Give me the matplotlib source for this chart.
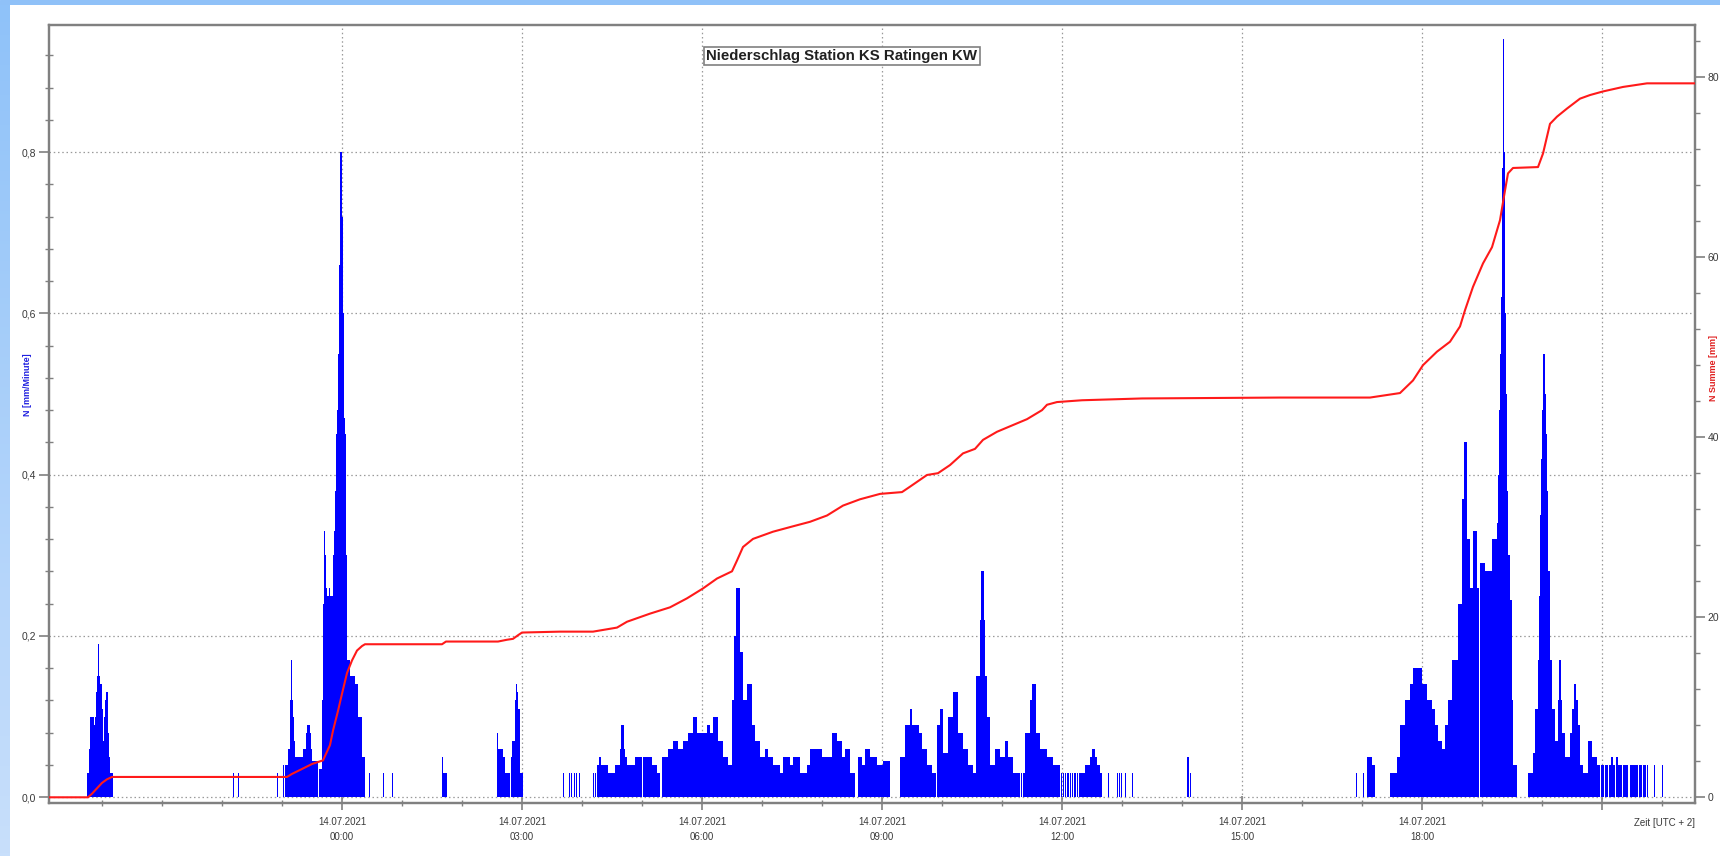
import numpy as np
import matplotlib
matplotlib.use("Agg")
import matplotlib.pyplot as plt
from matplotlib.ticker import FixedLocator, MultipleLocator, FuncFormatter
from matplotlib.colors import LinearSegmentedColormap

W, H = 1720, 856

# time axis: minutes relative to 14.07.2021 00:00 (UTC+2)
x_start, x_end = -293, 1353
major_ticks = [0, 180, 360, 540, 720, 900, 1080, 1260]
date_label = "14.07.2021"

# precipitation intensity N [mm/Minute] as runs (start minute, end minute, value)
rain_1307_evening = [
    (-255, -253, 0.03), (-253, -252, 0.06), (-252, -248, 0.10), (-248, -247, 0.09),
    (-247, -246, 0.10), (-246, -245, 0.13), (-245, -244, 0.15), (-244, -243, 0.19),
    (-243, -242, 0.15), (-242, -240, 0.14), (-240, -239, 0.11), (-239, -238, 0.07),
    (-238, -237, 0.10), (-237, -236, 0.12), (-236, -234, 0.13), (-234, -233, 0.08),
    (-233, -232, 0.05), (-232, -229, 0.03),
    (-109, -108, 0.03), (-104, -103, 0.03), (-65, -64, 0.03),
]
rain_midnight = [
    (-59, -58, 0.04), (-57, -54, 0.04), (-54, -52, 0.06), (-52, -51, 0.12),
    (-51, -50, 0.17), (-50, -49, 0.12), (-49, -48, 0.10), (-48, -47, 0.07),
    (-47, -39, 0.05), (-39, -36, 0.06), (-36, -35, 0.08), (-35, -32, 0.09),
    (-32, -31, 0.08), (-31, -30, 0.06), (-30, -24, 0.045), (-23, -20, 0.035),
    (-20, -19, 0.12), (-19, -18, 0.24), (-18, -17, 0.33), (-17, -16, 0.30),
    (-16, -15, 0.26), (-15, -13, 0.25), (-13, -12, 0.26), (-12, -9, 0.25),
    (-9, -8, 0.30), (-8, -7, 0.33), (-7, -6, 0.38), (-6, -5, 0.45),
    (-5, -4, 0.48), (-4, -3, 0.55), (-3, -2, 0.66), (-2, -1, 0.80),
    (-1, 0, 0.80), (0, 1, 0.72), (1, 2, 0.60), (2, 3, 0.47), (3, 4, 0.45),
    (4, 5, 0.30), (5, 8, 0.17), (8, 13, 0.15), (13, 16, 0.14), (16, 20, 0.10),
    (20, 23, 0.05),
    (27, 28, 0.03), (41, 42, 0.03), (50, 51, 0.03),
    (100, 101, 0.05), (101, 105, 0.03),
    (155, 156, 0.08), (156, 161, 0.06), (161, 163, 0.05), (163, 168, 0.03),
    (169, 170, 0.05), (170, 173, 0.07), (173, 174, 0.12), (174, 175, 0.14),
    (175, 176, 0.13), (176, 178, 0.11), (178, 181, 0.03),
]
rain_morning = [
    (221, 222, 0.03), (227, 228, 0.03), (229, 230, 0.03), (232, 233, 0.03),
    (234, 235, 0.03), (237, 238, 0.03), (251, 252, 0.03), (253, 254, 0.03),
    (255, 257, 0.04), (257, 259, 0.05), (259, 266, 0.04), (266, 273, 0.03),
    (273, 278, 0.04), (278, 279, 0.06), (279, 282, 0.09), (282, 283, 0.06),
    (283, 285, 0.05), (285, 293, 0.04), (293, 300, 0.05), (301, 310, 0.05),
    (310, 315, 0.04), (315, 318, 0.03), (320, 326, 0.05), (326, 331, 0.06),
    (331, 336, 0.07), (336, 341, 0.06), (341, 346, 0.07), (346, 351, 0.08),
    (351, 355, 0.10), (355, 365, 0.08), (365, 368, 0.09), (368, 371, 0.08),
    (371, 376, 0.10), (376, 381, 0.07), (381, 386, 0.05), (386, 390, 0.04),
    (390, 392, 0.12), (392, 394, 0.20), (394, 398, 0.26), (398, 401, 0.18),
    (401, 405, 0.12), (405, 410, 0.14), (410, 413, 0.09), (413, 418, 0.07),
    (418, 423, 0.05), (423, 426, 0.06), (426, 431, 0.05), (431, 438, 0.04),
    (438, 441, 0.03), (441, 448, 0.05), (448, 451, 0.04), (451, 458, 0.05),
    (458, 465, 0.03), (465, 468, 0.04), (468, 480, 0.06), (480, 490, 0.05),
    (490, 495, 0.08), (495, 500, 0.07), (500, 503, 0.05), (503, 508, 0.06),
    (508, 513, 0.03), (516, 520, 0.05), (520, 523, 0.04), (523, 528, 0.06),
    (528, 535, 0.05), (535, 541, 0.04), (541, 548, 0.045),
]
rain_midday = [
    (558, 563, 0.05), (563, 568, 0.09), (568, 570, 0.11), (570, 577, 0.09),
    (577, 580, 0.08), (580, 585, 0.06), (585, 590, 0.04), (590, 594, 0.03),
    (595, 598, 0.09), (598, 601, 0.11), (601, 606, 0.055), (606, 611, 0.10),
    (611, 616, 0.13), (616, 621, 0.08), (621, 626, 0.06), (626, 631, 0.04),
    (631, 634, 0.03), (634, 638, 0.15), (638, 639, 0.22), (639, 642, 0.28),
    (642, 643, 0.22), (643, 645, 0.15), (645, 648, 0.10), (648, 653, 0.04),
    (653, 658, 0.06), (658, 663, 0.05), (663, 666, 0.07), (666, 671, 0.05),
    (671, 678, 0.03), (679, 680, 0.03), (681, 683, 0.03), (683, 688, 0.08),
    (688, 690, 0.12), (690, 694, 0.14), (694, 698, 0.08), (698, 705, 0.06),
    (705, 711, 0.05), (711, 718, 0.04), (719, 720, 0.03), (721, 722, 0.03),
    (723, 724, 0.03), (725, 727, 0.03), (728, 729, 0.03), (730, 731, 0.03),
    (732, 734, 0.03), (735, 736, 0.03), (737, 743, 0.03), (743, 748, 0.04),
    (748, 750, 0.05), (750, 753, 0.06), (753, 755, 0.05), (755, 758, 0.04),
    (758, 760, 0.03), (766, 767, 0.03), (775, 776, 0.03), (777, 778, 0.03),
    (779, 780, 0.03), (783, 784, 0.03), (790, 791, 0.03),
    (845, 847, 0.05), (848, 849, 0.03),
]
rain_evening = [
    (1014, 1015, 0.03), (1021, 1022, 0.03), (1025, 1030, 0.05), (1030, 1033, 0.04),
    (1048, 1055, 0.03), (1055, 1058, 0.05), (1058, 1063, 0.09), (1063, 1068, 0.12),
    (1068, 1071, 0.14), (1071, 1080, 0.16), (1080, 1085, 0.14), (1085, 1090, 0.12),
    (1090, 1093, 0.11), (1093, 1096, 0.09), (1096, 1100, 0.07), (1100, 1103, 0.06),
    (1103, 1106, 0.09), (1106, 1110, 0.12), (1110, 1116, 0.17), (1116, 1120, 0.24),
    (1120, 1122, 0.37), (1122, 1125, 0.44), (1125, 1128, 0.32), (1128, 1131, 0.26),
    (1131, 1135, 0.33), (1135, 1137, 0.26), (1138, 1143, 0.29), (1143, 1150, 0.28),
    (1150, 1155, 0.32), (1155, 1156, 0.34), (1156, 1157, 0.40), (1157, 1158, 0.48),
    (1158, 1159, 0.55), (1159, 1160, 0.62), (1160, 1161, 0.78), (1161, 1162, 0.94),
    (1162, 1163, 0.80), (1163, 1164, 0.60), (1164, 1165, 0.50), (1165, 1166, 0.38),
    (1166, 1168, 0.30), (1168, 1170, 0.245), (1170, 1171, 0.12), (1171, 1175, 0.04),
    (1186, 1191, 0.03), (1191, 1193, 0.055), (1193, 1196, 0.11), (1196, 1197, 0.17),
    (1197, 1198, 0.25), (1198, 1199, 0.35), (1199, 1200, 0.42), (1200, 1201, 0.48),
    (1201, 1203, 0.55), (1203, 1204, 0.50), (1204, 1205, 0.45), (1205, 1206, 0.38),
    (1206, 1208, 0.28), (1208, 1210, 0.17), (1210, 1213, 0.11), (1213, 1216, 0.07),
    (1216, 1217, 0.12), (1217, 1219, 0.17), (1219, 1220, 0.12), (1220, 1223, 0.08),
    (1223, 1228, 0.05), (1228, 1230, 0.08), (1230, 1232, 0.11), (1232, 1234, 0.14),
    (1234, 1236, 0.12), (1236, 1238, 0.09), (1238, 1241, 0.04), (1241, 1246, 0.03),
    (1246, 1250, 0.07), (1250, 1255, 0.05), (1255, 1258, 0.04), (1259, 1262, 0.04),
    (1263, 1266, 0.04), (1267, 1269, 0.04), (1269, 1271, 0.05), (1271, 1273, 0.04),
    (1274, 1276, 0.05), (1276, 1280, 0.04), (1281, 1286, 0.04), (1288, 1296, 0.04),
    (1297, 1300, 0.04), (1301, 1304, 0.04), (1305, 1306, 0.04), (1312, 1313, 0.04),
    (1320, 1321, 0.04),
]

# cumulative sum N Summe [mm]
sum_minutes = [-293, -254, -250, -245, -240, -235, -230, -55, -50, -39, -30, -19,
               -12, -9, -4, 0, 5, 10, 15, 20, 23, 100, 104, 156, 165, 171, 176, 180,
               218, 251, 275, 285, 308, 328, 345, 361, 375, 390, 395, 401, 411, 431,
               451, 468, 485, 501, 518, 538, 560, 568, 585, 596, 608, 621, 633, 641,
               655, 670, 685, 700, 705, 715, 740, 800, 938, 1028, 1058, 1071, 1081,
               1095, 1108, 1118, 1123, 1131, 1141, 1150, 1158, 1163, 1166, 1171,
               1196, 1201, 1208, 1215, 1225, 1238, 1248, 1261, 1281, 1305, 1353]
sum_mm = [0.0, 0.0, 0.4, 1.0, 1.6, 2.0, 2.26, 2.26, 2.6, 3.2, 3.7, 4.1,
          5.8, 7.4, 9.6, 11.5, 13.8, 15.2, 16.3, 16.8, 17.0, 17.0, 17.3, 17.3, 17.5,
          17.6, 18.0, 18.3, 18.4, 18.4, 18.85, 19.5, 20.4, 21.1, 22.1, 23.2, 24.3,
          25.1, 26.3, 27.8, 28.7, 29.5, 30.1, 30.6, 31.3, 32.4, 33.1, 33.7, 33.9,
          34.5, 35.8, 36.0, 36.9, 38.2, 38.7, 39.7, 40.6, 41.3, 42.0, 43.0, 43.6,
          43.9, 44.1, 44.3, 44.4, 44.4, 44.9, 46.3, 48.0, 49.5, 50.6, 52.3, 54.1,
          56.7, 59.3, 61.1, 64.1, 67.4, 69.3, 69.9, 70.0, 71.5, 74.8, 75.6, 76.5,
          77.6, 78.0, 78.4, 78.9, 79.3, 79.3]

title = "Niederschlag Station KS Ratingen KW"

# ---------------------------------------------------------------------------
minutes = np.arange(x_start, x_end)
rate = np.zeros(len(minutes))
for section in (rain_1307_evening, rain_midnight, rain_morning, rain_midday, rain_evening):
    for s, e, v in section:
        rate[s - x_start:e - x_start] = v
mask = rate > 0

plt.rcParams['font.family'] = ['Liberation Sans', 'DejaVu Sans']
fig = plt.figure(figsize=(W / 100, H / 100), dpi=100)
fig.patch.set_facecolor('white')

# light-blue frame strips
top_ax = fig.add_axes([0, 1 - 5 / H, 1, 5 / H])
top_ax.set_axis_off()
top_ax.add_patch(plt.Rectangle((0, 0), 1, 1, color='#8fc1f8', transform=top_ax.transAxes))
left_ax = fig.add_axes([0, 0, 9.5 / W, 1 - 5 / H])
grad = np.linspace(0, 1, 256).reshape(-1, 1)
cm = LinearSegmentedColormap.from_list('fr', ['#8fc2f9', '#c8dffb'])
left_ax.imshow(grad, aspect='auto', cmap=cm, extent=[0, 1, 0, 1])
left_ax.set_axis_off()

ax_l, ax_r, ax_t, ax_b = 49, 1695, 25, 803
ax = fig.add_axes([ax_l / W, 1 - ax_b / H, (ax_r - ax_l) / W, (ax_b - ax_t) / H])
ax.set_xlim(x_start, x_end)
ax.set_ylim(-0.0071, 0.9575)
ax.set_axisbelow(True)

ax.bar(minutes[mask], rate[mask], width=1.0, align='edge', color='#0000ff',
       linewidth=0, antialiased=False, zorder=2)

grid_kw = dict(color='#9a9a9a', linestyle=(0, (1.2, 2.2)), linewidth=0.9)
ax.grid(True, which='major', axis='both', **grid_kw)

spine_c = '#808080'
for sp in ax.spines.values():
    sp.set_color(spine_c)
    sp.set_linewidth(1.6)

ax.xaxis.set_major_locator(FixedLocator(major_ticks))
ax.xaxis.set_minor_locator(MultipleLocator(60))
def xfmt(v, pos):
    m = int(round(v))
    if m >= 1260:
        return ''
    return f"{date_label}\n{(m // 60) % 24:02d}:00"
ax.xaxis.set_major_formatter(FuncFormatter(xfmt))
ax.tick_params(axis='x', which='major', direction='inout', length=10, width=1.2,
               color=spine_c, labelsize=7, labelcolor='#3a3a3a', pad=5)
ax.tick_params(axis='x', which='minor', direction='inout', length=5, width=1.0, color=spine_c)
for lab in ax.get_xticklabels():
    lab.set_linespacing(1.6)

ax.yaxis.set_major_locator(MultipleLocator(0.2))
ax.yaxis.set_minor_locator(MultipleLocator(0.04))
ax.yaxis.set_major_formatter(FuncFormatter(lambda v, p: f"{v:.1f}".replace('.', ',')))
ax.tick_params(axis='y', which='major', direction='out', length=7, width=1.2,
               color=spine_c, labelsize=7.5, labelcolor='#3a3a3a', pad=2)
ax.tick_params(axis='y', which='minor', direction='inout', length=6, width=1.0, color=spine_c)

ax2 = ax.twinx()
ax2.set_ylim(-0.633, 85.78)
ax2.plot(sum_minutes, sum_mm, color='#ff1a1a', linewidth=1.5, zorder=5)
ax2.yaxis.set_major_locator(MultipleLocator(20))
ax2.yaxis.set_minor_locator(MultipleLocator(4))
ax2.yaxis.set_major_formatter(FuncFormatter(lambda v, p: f"{v:.0f}"))
ax2.tick_params(axis='y', which='major', direction='out', length=7, width=1.2,
                color=spine_c, labelsize=7.5, labelcolor='#3a3a3a', pad=2)
ax2.tick_params(axis='y', which='minor', direction='out', length=3.5, width=1.0, color=spine_c)
for sp in ax2.spines.values():
    sp.set_color(spine_c)
    sp.set_linewidth(1.6)

# axis titles
fig.text(28 / W, 1 - 385 / H, "N [mm/Minute]", rotation=90, color='#2020e0',
         fontsize=6.5, fontweight='bold', ha='center', va='center')
fig.text(1714 / W, 1 - 368 / H, "N Summe [mm]", rotation=90, color='#e02020',
         fontsize=6.5, fontweight='bold', ha='center', va='center')
fig.text(1695 / W, 1 - 823 / H, "Zeit [UTC + 2]", color='#3a3a3a', fontsize=7,
         ha='right', va='center')

# title box
ax.text((842 - ax_l) / (ax_r - ax_l), (ax_b - 56) / (ax_b - ax_t), title,
        transform=ax.transAxes, ha='center', va='center', fontsize=10.8,
        fontweight='bold', family=['Liberation Sans Narrow', 'Liberation Sans', 'DejaVu Sans'],
        color='#202020', zorder=10,
        bbox=dict(boxstyle='square,pad=0.15', fc='white', ec='#808080', lw=1.2))

fig.savefig('out.png', dpi=100)
